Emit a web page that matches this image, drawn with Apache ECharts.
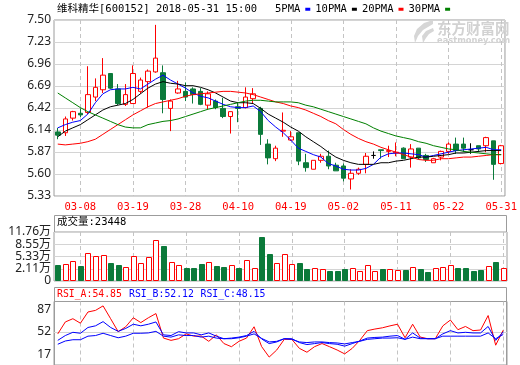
<!DOCTYPE html>
<html><head><meta charset="utf-8">
<script src="https://cdn.jsdelivr.net/npm/echarts@6/dist/echarts.min.js"></script>
<style>html,body{margin:0;padding:0;background:#fff}#c{width:520px;height:365px}</style>
</head><body><div id="c"></div>
<script>
// ---------------- data ----------------
const stockName = '维科精华';
const stockCode = '600152';
const stamp = '2018-05-31 15:00';
const lastVolume = 23448;

const dates = ['03-05','03-06','03-07','03-08','03-09','03-12','03-13','03-14','03-15','03-16',
  '03-19','03-20','03-21','03-22','03-23','03-26','03-27','03-28','03-29','03-30',
  '04-02','04-03','04-04','04-09','04-10','04-11','04-12','04-13','04-16','04-17',
  '04-18','04-19','04-20','04-23','04-24','04-25','04-26','04-27','05-02','05-03',
  '05-04','05-07','05-08','05-09','05-10','05-11','05-14','05-15','05-16','05-17',
  '05-18','05-21','05-22','05-23','05-24','05-25','05-28','05-29','05-30','05-31'];
const labelDates = ['03-08','03-19','03-28','04-10','04-19','05-02','05-11','05-22','05-31'];

const opens  = [6.12,6.11,6.29,6.35,6.36,6.55,6.64,6.84,6.65,6.46, 6.47,6.62,6.74,6.86,6.85,6.41,6.60,6.62,6.65,6.62,
                6.45,6.50,6.41,6.31,6.43,6.42,6.53,6.41,5.97,5.79, 6.13,6.02,6.11,5.74,5.66,5.77,5.82,5.71,5.70,5.54,
                5.61,5.72,5.83,5.90,5.88,5.86,5.92,5.81,5.92,5.83, 5.74,5.81,5.88,5.97,5.97,5.90,5.95,5.95,6.01,5.73];
const closes = [6.08,6.28,6.37,6.33,6.58,6.67,6.82,6.66,6.47,6.58, 6.84,6.76,6.87,7.03,6.52,6.50,6.65,6.55,6.58,6.46,
                6.59,6.42,6.31,6.37,6.41,6.55,6.59,6.09,5.80,5.92, 6.14,6.06,5.76,5.68,5.77,5.82,5.70,5.64,5.55,5.61,
                5.66,5.82,5.83,5.89,5.89,5.87,5.79,5.91,5.80,5.78, 5.79,5.88,5.97,5.89,5.92,5.90,5.91,6.05,5.72,5.95];
const lows   = [6.03,6.07,6.26,6.30,6.34,6.50,6.60,6.65,6.45,6.44, 6.47,6.59,6.42,6.85,6.35,6.13,6.59,6.50,6.47,6.45,
                6.40,6.40,6.29,6.10,6.24,6.41,6.47,5.96,5.72,5.76, 6.06,6.01,5.71,5.63,5.66,5.74,5.66,5.64,5.51,5.41,
                5.59,5.61,5.79,5.79,5.81,5.82,5.79,5.68,5.78,5.75, 5.74,5.77,5.85,5.85,5.87,5.85,5.87,5.87,5.53,5.72];
const highs  = [6.17,6.31,6.38,6.41,6.93,6.78,7.03,6.84,6.71,6.71, 6.94,6.79,6.89,7.44,6.94,6.52,6.75,6.73,6.67,6.66,
                6.62,6.52,6.54,6.37,6.48,6.67,6.66,6.43,6.03,5.95, 6.36,6.13,6.11,5.85,5.77,5.85,5.89,5.74,5.73,5.66,
                5.68,5.86,5.88,5.90,5.95,5.99,5.93,5.97,5.92,5.85, 5.80,5.89,5.99,6.05,6.05,5.98,5.95,6.06,6.01,5.96];

const ma5  = [6.17,6.21,6.24,6.26,6.34,6.48,6.59,6.64,6.65,6.65, 6.67,6.65,6.71,6.77,6.82,6.76,6.71,6.66,6.60,6.56,
              6.54,6.50,6.46,6.43,6.42,6.42,6.44,6.37,6.26,6.18, 6.11,6.02,5.92,5.88,5.84,5.81,5.73,5.70,5.66,5.65,
              5.65,5.67,5.72,5.81,5.85,5.86,5.86,5.85,5.84,5.81, 5.83,5.85,5.87,5.89,5.90,5.91,5.92,5.93,5.90,5.90];
const ma10 = [6.06,6.13,6.17,6.21,6.27,6.33,6.39,6.43,6.45,6.47, 6.52,6.59,6.66,6.71,6.74,6.72,6.71,6.69,6.69,6.67,
              6.64,6.60,6.55,6.50,6.48,6.48,6.47,6.41,6.34,6.29, 6.24,6.18,6.13,6.06,6.00,5.94,5.87,5.81,5.77,5.74,
              5.72,5.72,5.72,5.74,5.74,5.76,5.77,5.79,5.81,5.81, 5.82,5.83,5.84,5.86,5.86,5.87,5.88,5.89,5.89,5.89];
const ma20 = [5.97,5.96,5.97,5.98,6.00,6.03,6.09,6.15,6.21,6.27, 6.33,6.38,6.43,6.47,6.49,6.51,6.53,6.56,6.58,6.59,
              6.60,6.61,6.62,6.62,6.61,6.60,6.58,6.55,6.52,6.49, 6.47,6.44,6.42,6.39,6.35,6.31,6.26,6.22,6.15,6.09,
              6.04,6.00,5.97,5.93,5.90,5.87,5.84,5.81,5.78,5.77, 5.77,5.79,5.79,5.80,5.81,5.81,5.82,5.83,5.84,5.84];
const ma30 = [6.60,6.54,6.48,6.42,6.37,6.33,6.29,6.25,6.21,6.18, 6.17,6.17,6.21,6.23,6.25,6.26,6.28,6.31,6.34,6.37,
              6.40,6.42,6.44,6.46,6.48,6.50,6.51,6.51,6.50,6.49, 6.49,6.49,6.48,6.45,6.43,6.40,6.37,6.34,6.31,6.28,
              6.25,6.22,6.17,6.13,6.10,6.07,6.05,6.03,6.00,5.98, 5.95,5.93,5.91,5.90,5.88,5.87,5.86,5.85,5.84,5.84];

// volume in 万 (10k)
const volumes = [3.09,3.28,4.06,2.83,6.16,5.38,5.64,3.62,3.09,2.49, 5.38,3.54,5.12,9.66,8.08,3.80,3.01,2.31,2.31,3.28,
                 3.80,2.83,2.65,3.01,2.31,4.33,2.31,10.52,5.98,3.54, 5.90,3.28,3.62,2.04,2.31,2.04,1.52,1.52,2.04,2.31,
                 1.52,3.09,1.52,2.04,2.04,1.78,1.78,2.57,2.04,1.26, 2.31,2.57,3.01,2.31,2.31,1.52,1.78,2.83,3.88,2.34];
const volTickLabels = ['0','2.11万','5.33万','8.55万','11.76万'];
const volAxisTop = 11.7625, volAxisStep = 3.2175;

const rsiA = [49.0,67.8,72.9,65.8,83.5,86.0,93.1,72.9,52.5,60.2, 74.4,66.8,74.4,81.0,42.4,38.8,41.4,49.0,45.5,45.5,
              37.3,47.5,33.8,28.8,37.3,42.4,60.2,29.0,12.5,23.6, 40.4,40.4,26.2,20.1,28.8,33.8,28.8,23.6,17.5,26.2,
              38.8,54.1,56.6,58.6,61.6,64.2,42.9,64.2,44.0,41.4, 41.4,61.6,70.8,55.6,60.7,54.1,55.1,77.9,31.2,54.85];
const rsiB = [38.8,46.4,51.5,50.0,59.1,61.7,68.3,59.1,53.0,57.6, 64.2,61.7,64.2,67.8,47.5,46.4,52.5,50.5,50.5,47.5,
              50.5,45.4,41.4,42.4,43.9,46.4,53.0,41.0,33.7,36.3, 41.4,41.4,35.3,32.2,33.7,35.3,33.7,32.7,29.7,33.7,
              37.8,42.4,43.4,43.9,45.4,46.4,40.4,50.5,42.4,41.4, 41.4,49.0,54.1,50.5,51.5,50.5,50.5,60.7,38.8,52.12];
const rsiC = [32.7,37.8,39.8,39.8,45.4,46.4,50.0,46.4,42.9,45.4, 50.0,50.0,50.5,53.0,45.4,43.9,47.5,46.4,46.4,43.9,
              45.4,42.4,41.4,41.4,42.9,45.4,49.0,41.9,36.3,37.3, 41.4,40.4,36.3,35.3,36.3,36.3,35.3,34.7,33.2,35.3,
              37.3,40.4,41.4,42.4,42.4,42.9,40.4,43.9,41.4,41.4, 41.4,45.4,45.4,45.4,45.4,45.4,45.4,50.5,41.4,48.15];
const rsiTicks = [17, 52, 87];

const priceMin = 5.33, priceMax = 7.50, priceSteps = 8;

// ---------------- styles ----------------
const RED = '#ff0000', GREEN = '#0b7a3a', BLUE = '#0000ff', BLACK = '#000000', MAGREEN = '#008000';
const FRAME = '#9c9c9c', GRIDLINE = '#d4d4d4', DASH = '#c4c4c4';
const MONO = '"DejaVu Sans Mono","Noto Sans CJK SC",monospace';
const SANS = '"Noto Sans","Noto Sans CJK SC",sans-serif';
const L = 54, W = 453;

const chart = echarts.init(document.getElementById('c'), null, {renderer: 'canvas', width: 520, height: 365});

const candleData = dates.map((d, i) => {
  const v = [opens[i], closes[i], lows[i], highs[i]];
  return opens[i] === closes[i]
    ? {value: v, itemStyle: {color: BLACK, color0: BLACK, borderColor: BLACK, borderColor0: BLACK}}
    : v;
});
const volUp = dates.map((d, i) => closes[i] > opens[i] || (closes[i] === opens[i] && i > 0 && closes[i] >= closes[i - 1]));
const volMin = volAxisTop - 4 * volAxisStep;
const isLabelDate = (idx, val) => labelDates.indexOf(val !== undefined ? val : dates[idx]) >= 0;

const maLine = (name, data, color) => ({
  name, type: 'line', data, xAxisIndex: 0, yAxisIndex: 0, symbol: 'none', smooth: false,
  lineStyle: {width: 1, color}, itemStyle: {color}, z: 3
});

const rsiLine = (name, data, color, extra) => Object.assign({
  name, type: 'line', data, xAxisIndex: 2, yAxisIndex: 2, symbol: 'none',
  lineStyle: {width: 1, color}, itemStyle: {color}
}, extra || {});

const option = {
  animation: false,
  backgroundColor: '#ffffff',
  grid: [
    {left: L, width: W, top: 20, height: 176, show: true, borderColor: FRAME, borderWidth: 1},
    {left: L, width: W, top: 232, height: 49, show: true, borderColor: FRAME, borderWidth: 1},
    {left: L, width: W, top: 301.5, height: 65.7, show: true, borderColor: FRAME, borderWidth: 1}
  ],
  legend: {
    left: 275, top: 4, padding: 0, align: 'right', icon: 'rect', itemWidth: 5, itemHeight: 3, itemGap: 5,
    selectedMode: false,
    textStyle: {fontFamily: MONO, fontSize: 10.5, color: '#000'},
    data: ['5PMA', '10PMA', '20PMA', '30PMA']
  },
  xAxis: [0, 1, 2].map(k => ({
    type: 'category', gridIndex: k, data: dates, boundaryGap: true,
    axisLine: {show: false}, axisTick: {show: false},
    splitLine: {show: true, interval: isLabelDate, alignWithLabel: true,
      lineStyle: {color: DASH, type: [4, 3], width: 1}},
    axisLabel: k === 0 ? {
      show: true, color: RED, fontFamily: MONO, fontSize: 10.5, margin: 6,
      interval: isLabelDate
    } : {show: false}
  })),
  yAxis: [
    {
      gridIndex: 0, type: 'value', min: priceMin, max: priceMax, interval: (priceMax - priceMin) / priceSteps,
      axisLine: {show: false}, axisTick: {show: false},
      axisLabel: {formatter: v => v.toFixed(2), margin: 3, color: '#222', fontFamily: SANS, fontSize: 12},
      splitLine: {show: true, lineStyle: {color: GRIDLINE, width: 1}}
    },
    {
      gridIndex: 1, type: 'value', min: volMin, max: volAxisTop, interval: volAxisStep,
      axisLine: {show: false}, axisTick: {show: false},
      axisLabel: {formatter: v => volTickLabels[Math.round((v - volMin) / volAxisStep)] || '', margin: 3,
        color: '#222', fontFamily: SANS, fontSize: 12},
      splitLine: {show: true, lineStyle: {color: GRIDLINE, width: 1}}
    },
    {
      gridIndex: 2, type: 'value', min: 0, max: 100,
      axisLine: {show: false}, axisTick: {show: false},
      axisLabel: {customValues: rsiTicks, margin: 3, color: '#222', fontFamily: SANS, fontSize: 12},
      splitLine: {show: false}
    }
  ],
  series: [
    {
      name: 'K', type: 'candlestick', xAxisIndex: 0, yAxisIndex: 0, data: candleData, barWidth: 5,
      itemStyle: {color: '#ffffff', color0: GREEN, borderColor: RED, borderColor0: GREEN, borderWidth: 1},
      z: 2
    },
    maLine('5PMA', ma5, BLUE),
    maLine('10PMA', ma10, BLACK),
    maLine('20PMA', ma20, RED),
    maLine('30PMA', ma30, MAGREEN),
    {
      name: 'VOL', type: 'custom', xAxisIndex: 1, yAxisIndex: 1,
      data: volumes.map((v, i) => [i, v]),
      encode: {x: 0, y: 1},
      renderItem: (params, api) => {
        const idx = api.value(0), v = api.value(1);
        const top = api.coord([idx, v]);
        const base = api.coord([idx, volMin]);
        const w = 5;
        const x = Math.round(top[0] - w / 2) + 0.5;
        const y = Math.round(top[1]) + 0.5;
        const h = Math.round(base[1]) - Math.round(top[1]) - 1;
        const up = volUp[idx];
        return {
          type: 'rect', shape: {x, y, width: w, height: h},
          style: up ? {fill: '#ffffff', stroke: RED, lineWidth: 1} : {fill: GREEN, stroke: GREEN, lineWidth: 1}
        };
      },
      z: 2
    },
    rsiLine('RSI_A', rsiA, RED, {markLine: {
      silent: true, symbol: 'none', z: 1, animation: false, label: {show: false},
      lineStyle: {type: 'solid', color: GRIDLINE, width: 1},
      data: [{yAxis: rsiTicks[1]}]
    }}),
    rsiLine('RSI_B', rsiB, BLUE),
    rsiLine('RSI_C', rsiC, BLUE)
  ],
  graphic: [
    {type: 'text', left: 57, top: 4, z: 10,
      style: {text: stockName + '[' + stockCode + '] ' + stamp, font: '10.5px ' + MONO, fill: '#000'}},
    {type: 'rect', z: 0, shape: {x: L + 0.5, y: 215.5, width: W - 1, height: 17}, style: {fill: 'none', stroke: FRAME, lineWidth: 1}},
    {type: 'text', left: 57, top: 217, z: 10,
      style: {text: '成交量:' + lastVolume, font: '10.5px ' + MONO, fill: '#000'}},
    {type: 'rect', z: 0, shape: {x: L + 0.5, y: 287.5, width: W - 1, height: 100}, style: {fill: 'none', stroke: FRAME, lineWidth: 1}},
    {type: 'text', left: 57, top: 289.5, z: 10,
      style: {text: 'RSI_A:' + rsiA[rsiA.length - 1].toFixed(2), font: '9.8px ' + MONO, fill: RED}},
    {type: 'text', left: 129, top: 289.5, z: 10,
      style: {text: 'RSI_B:' + rsiB[rsiB.length - 1].toFixed(2), font: '9.8px ' + MONO, fill: BLUE}},
    {type: 'text', left: 200.5, top: 289.5, z: 10,
      style: {text: 'RSI_C:' + rsiC[rsiC.length - 1].toFixed(2), font: '9.8px ' + MONO, fill: BLUE}},
    // watermark
    {type: 'polygon', z: 0, shape: {points: [[433,20],[424,23],[417,29],[414,36],[415,43],[418,36],[423,30],[433,24]]},
      style: {fill: '#d6d6d6'}},
    {type: 'polygon', z: 0, shape: {points: [[433,28],[426,31],[422,36],[423,43],[426,38],[429,34],[434,31]]},
      style: {fill: '#d6d6d6'}},
    {type: 'text', left: 437, top: 21, z: 0,
      style: {text: '东方财富网', font: 'bold 14.5px "Noto Sans CJK SC"', fill: '#d2d2d2'}},
    {type: 'text', left: 437, top: 37, z: 0,
      style: {text: 'eastmoney.com', font: 'bold 8.3px "DejaVu Sans"', fill: '#d2d2d2'}}
  ]
};
chart.setOption(option);
</script>
</body></html>
